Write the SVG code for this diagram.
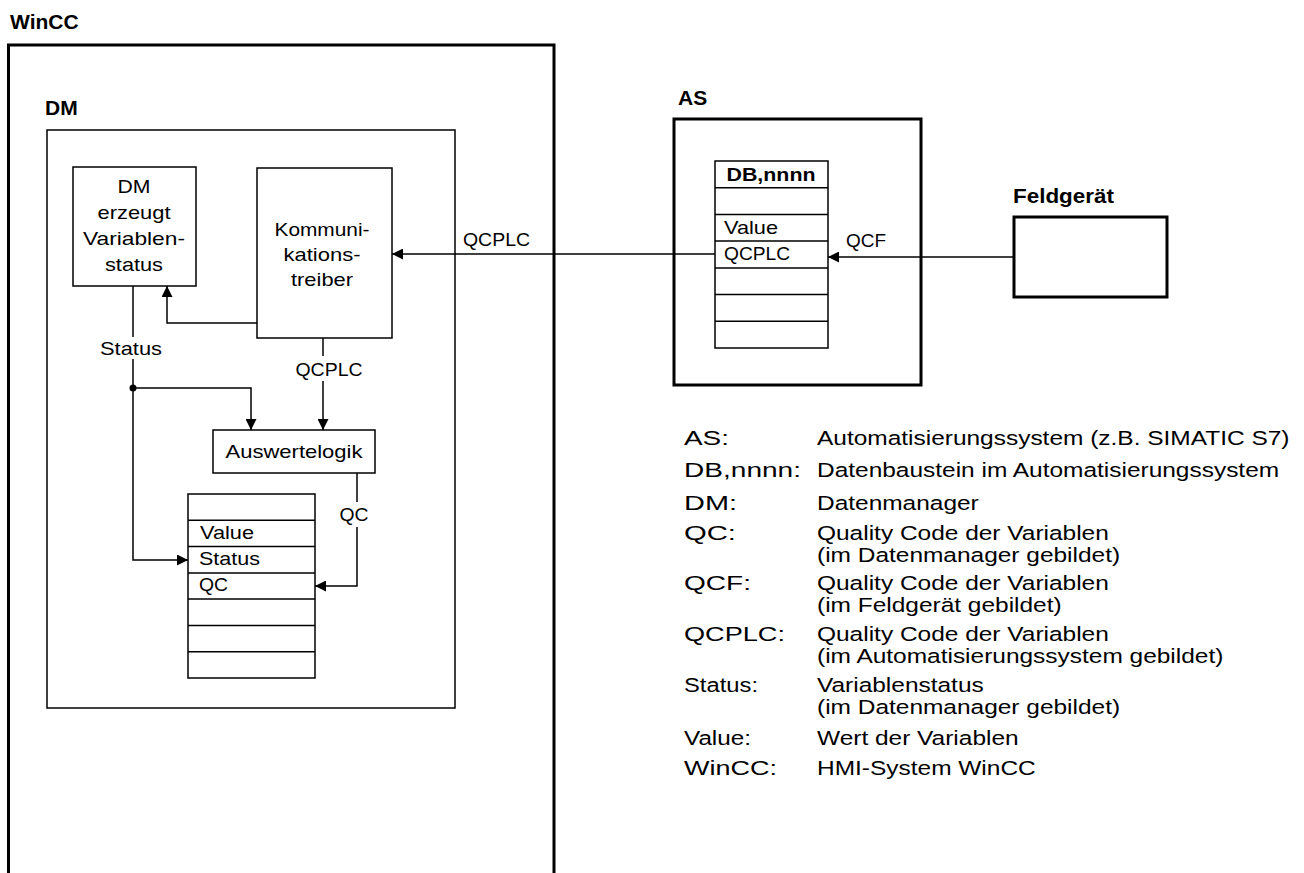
<svg xmlns="http://www.w3.org/2000/svg" width="1304" height="873" viewBox="0 0 1304 873">
<style>
.thick{fill:none;stroke:#000;stroke-width:3}
.thin{fill:none;stroke:#000;stroke-width:1.5}
.ln{fill:none;stroke:#000;stroke-width:1.5}
text{font-family:"Liberation Sans",Arial,sans-serif;fill:#000}
.t{font-size:19px}
.m{text-anchor:middle}
.h{font-size:21px;font-weight:bold}
.hb{font-size:19px;font-weight:bold}
.lg{font-size:19.5px}
</style>
<defs>
<marker id="arr" viewBox="0 0 10 10" refX="10" refY="5" markerWidth="11" markerHeight="11" markerUnits="userSpaceOnUse" orient="auto"><path d="M0,0 L10,5 L0,10 z" fill="#000"/></marker>
</defs>
<rect width="1304" height="873" fill="#fff"/>

<g id="wincc">
<text class="h" x="10" y="29">WinCC</text>
<path class="thick" d="M8.5,880 V45 H554 V880"/>
</g>

<g id="dm">
<text class="h" x="45" y="115">DM</text>
<rect class="thin" x="47" y="130" width="408" height="578"/>
</g>

<g id="dm-status">
<rect class="thin" x="73" y="167" width="123" height="119"/>
<text class="t m" x="134" y="193" textLength="33" lengthAdjust="spacingAndGlyphs">DM</text>
<text class="t m" x="134" y="219" textLength="73" lengthAdjust="spacingAndGlyphs">erzeugt</text>
<text class="t m" x="134" y="245" textLength="102" lengthAdjust="spacingAndGlyphs">Variablen-</text>
<text class="t m" x="134" y="271" textLength="58" lengthAdjust="spacingAndGlyphs">status</text>
</g>

<g id="kommunikationstreiber">
<rect class="thin" x="257" y="168" width="135" height="170"/>
<text class="t m" x="322" y="236" textLength="95" lengthAdjust="spacingAndGlyphs">Kommuni-</text>
<text class="t m" x="322" y="261" textLength="77" lengthAdjust="spacingAndGlyphs">kations-</text>
<text class="t m" x="322" y="286" textLength="62" lengthAdjust="spacingAndGlyphs">treiber</text>
</g>

<g id="auswertelogik">
<rect class="thin" x="213" y="430" width="162" height="43"/>
<text class="t m" x="294" y="458" textLength="137" lengthAdjust="spacingAndGlyphs">Auswertelogik</text>
</g>

<g id="dm-table">
<rect class="thin" x="188" y="494" width="127" height="184"/>
<path class="ln" d="M188,520.3 H315 M188,546.6 H315 M188,572.9 H315 M188,599.1 H315 M188,625.4 H315 M188,651.7 H315"/>
<text class="t" x="200" y="539" textLength="54" lengthAdjust="spacingAndGlyphs">Value</text>
<text class="t" x="199" y="565" textLength="61" lengthAdjust="spacingAndGlyphs">Status</text>
<text class="t" x="199" y="591" textLength="29" lengthAdjust="spacingAndGlyphs">QC</text>
</g>

<g id="as">
<text class="h" x="678" y="105">AS</text>
<rect class="thick" x="674" y="119" width="247" height="266"/>
</g>

<g id="db-table">
<rect class="thin" x="715" y="161" width="113" height="187"/>
<path class="ln" d="M715,187.7 H828 M715,214.4 H828 M715,241.1 H828 M715,267.9 H828 M715,294.6 H828 M715,321.3 H828"/>
<text class="hb m" x="771" y="181" textLength="89" lengthAdjust="spacingAndGlyphs">DB,nnnn</text>
<text class="t" x="724" y="234" textLength="54" lengthAdjust="spacingAndGlyphs">Value</text>
<text class="t" x="724" y="260" textLength="66" lengthAdjust="spacingAndGlyphs">QCPLC</text>
</g>

<g id="feldgeraet">
<text class="h" x="1013" y="203" textLength="101" lengthAdjust="spacingAndGlyphs">Feldgerät</text>
<rect class="thick" x="1014" y="217" width="153" height="80"/>
</g>

<g id="connectors">
<path class="ln" d="M715,254 H392" marker-end="url(#arr)"/>
<text class="t" x="463" y="246" textLength="67" lengthAdjust="spacingAndGlyphs">QCPLC</text>
<path class="ln" d="M1014,257 H828" marker-end="url(#arr)"/>
<text class="t" x="846" y="247" textLength="40" lengthAdjust="spacingAndGlyphs">QCF</text>
<path class="ln" d="M257,323 H167 V286" marker-end="url(#arr)"/>
<path class="ln" d="M133,286 V337"/>
<text class="t m" x="131" y="355" textLength="62" lengthAdjust="spacingAndGlyphs">Status</text>
<path class="ln" d="M133,359 V560 H188" marker-end="url(#arr)"/>
<circle cx="133" cy="388" r="3.5" fill="#000"/>
<path class="ln" d="M133,388 H251 V430" marker-end="url(#arr)"/>
<path class="ln" d="M323,338 V356"/>
<text class="t m" x="329" y="376" textLength="67" lengthAdjust="spacingAndGlyphs">QCPLC</text>
<path class="ln" d="M323,381 V430" marker-end="url(#arr)"/>
<path class="ln" d="M357,473 V502"/>
<text class="t m" x="354" y="521" textLength="29" lengthAdjust="spacingAndGlyphs">QC</text>
<path class="ln" d="M357,527 V586 H315" marker-end="url(#arr)"/>
</g>

<g id="legend">
<text class="lg" x="684" y="445" textLength="45" lengthAdjust="spacingAndGlyphs">AS:</text>
<text class="lg" x="684" y="477" textLength="117" lengthAdjust="spacingAndGlyphs">DB,nnnn:</text>
<text class="lg" x="684" y="510" textLength="53" lengthAdjust="spacingAndGlyphs">DM:</text>
<text class="lg" x="684" y="540" textLength="52" lengthAdjust="spacingAndGlyphs">QC:</text>
<text class="lg" x="684" y="590" textLength="67" lengthAdjust="spacingAndGlyphs">QCF:</text>
<text class="lg" x="684" y="641" textLength="101" lengthAdjust="spacingAndGlyphs">QCPLC:</text>
<text class="lg" x="684" y="692" textLength="74" lengthAdjust="spacingAndGlyphs">Status:</text>
<text class="lg" x="684" y="745" textLength="67" lengthAdjust="spacingAndGlyphs">Value:</text>
<text class="lg" x="684" y="775" textLength="93" lengthAdjust="spacingAndGlyphs">WinCC:</text>
<g transform="translate(817,0) scale(1.255,1)">
<text class="lg" x="0" y="445">Automatisierungssystem (z.B. SIMATIC S7)</text>
<text class="lg" x="0" y="477">Datenbaustein im Automatisierungssystem</text>
<text class="lg" x="0" y="510">Datenmanager</text>
<text class="lg" x="0" y="540">Quality Code der Variablen</text>
<text class="lg" x="0" y="562">(im Datenmanager gebildet)</text>
<text class="lg" x="0" y="590">Quality Code der Variablen</text>
<text class="lg" x="0" y="612">(im Feldgerät gebildet)</text>
<text class="lg" x="0" y="641">Quality Code der Variablen</text>
<text class="lg" x="0" y="663">(im Automatisierungssystem gebildet)</text>
<text class="lg" x="0" y="692">Variablenstatus</text>
<text class="lg" x="0" y="714">(im Datenmanager gebildet)</text>
<text class="lg" x="0" y="745">Wert der Variablen</text>
<text class="lg" x="0" y="775">HMI-System WinCC</text>
</g>
</g>
</svg>
